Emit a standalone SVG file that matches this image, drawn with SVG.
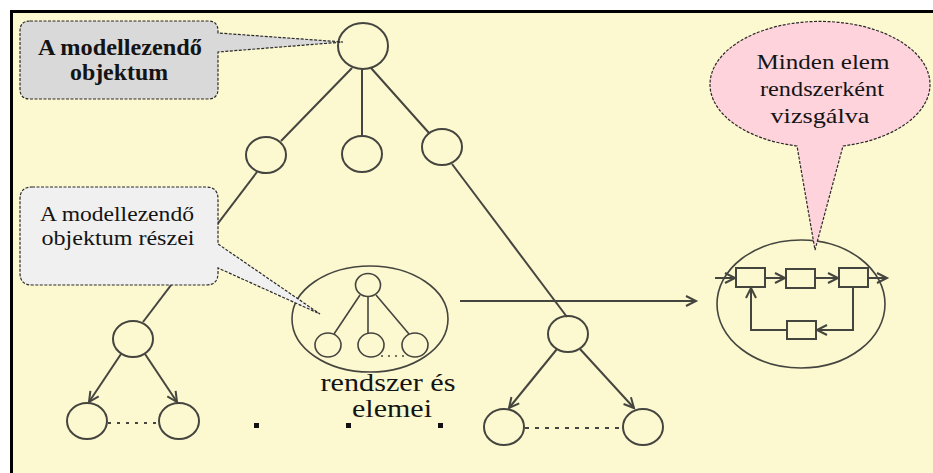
<svg xmlns="http://www.w3.org/2000/svg" width="933" height="473" viewBox="0 0 933 473">
  <style>
    .node { fill: none; stroke: #45453f; stroke-width: 2; }
    .edge { fill: none; stroke: #45453f; stroke-width: 2; }
    .thin { fill: none; stroke: #45453f; stroke-width: 1.6; }
    .box { fill: none; stroke: #45453f; stroke-width: 2; }
    .call { stroke: #2a2a2a; stroke-width: 1.2; stroke-dasharray: 3 1.5; }
    text { font-family: "Liberation Serif", "Times New Roman", serif; fill: #141414; }
  </style>
  <defs>
    <marker id="arr" markerUnits="userSpaceOnUse" markerWidth="14" markerHeight="14" refX="11" refY="6" orient="auto">
      <path d="M1,1 L11,6 L1,11" fill="none" stroke="#45453f" stroke-width="2"/>
    </marker>
  </defs>

  <!-- frame -->
  <rect x="0" y="0" width="933" height="473" fill="#ffffff"/>
  <rect x="10" y="10" width="923" height="463" fill="#000000"/>
  <rect x="13" y="13" width="920" height="460" fill="#fcf8d0"/>

  <!-- connectors -->
  <g id="connectors">
    <line class="edge" x1="352" y1="68" x2="281" y2="141"/>
    <line class="edge" x1="362" y1="69" x2="362" y2="136"/>
    <line class="edge" x1="371" y1="68" x2="429" y2="133"/>
    <line class="edge" x1="257" y1="172" x2="143" y2="322"/>
    <line class="edge" x1="452" y1="164" x2="567" y2="317"/>
    <line class="edge" x1="121" y1="354" x2="89" y2="402" marker-end="url(#arr)"/>
    <line class="edge" x1="145" y1="354" x2="177" y2="402" marker-end="url(#arr)"/>
    <line x1="108" y1="423" x2="160" y2="423" stroke="#45453f" stroke-width="2" stroke-dasharray="3 6"/>
    <line class="edge" x1="557" y1="349" x2="509" y2="408" marker-end="url(#arr)"/>
    <line class="edge" x1="580" y1="349" x2="634" y2="408" marker-end="url(#arr)"/>
    <line x1="525" y1="428" x2="623" y2="428" stroke="#45453f" stroke-width="2" stroke-dasharray="4 6"/>
    <line class="edge" x1="460" y1="301" x2="696" y2="301" marker-end="url(#arr)"/>
  </g>

  <!-- tree nodes -->
  <g id="root"><ellipse class="node" cx="363" cy="46" rx="25" ry="23"/></g>
  <g id="child-left"><ellipse class="node" cx="266" cy="155" rx="20" ry="18"/></g>
  <g id="child-mid"><ellipse class="node" cx="362" cy="154" rx="20" ry="18"/></g>
  <g id="child-right"><ellipse class="node" cx="442" cy="147" rx="20" ry="18"/></g>
  <g id="ll-parent"><ellipse class="node" cx="133" cy="339" rx="20" ry="18"/></g>
  <g id="ll-a"><ellipse class="node" cx="87" cy="421" rx="20" ry="18"/></g>
  <g id="ll-b"><ellipse class="node" cx="179" cy="421" rx="20" ry="18"/></g>
  <g id="rr-parent"><ellipse class="node" cx="568" cy="334" rx="20" ry="18"/></g>
  <g id="rr-a"><ellipse class="node" cx="504" cy="427" rx="20" ry="18"/></g>
  <g id="rr-b"><ellipse class="node" cx="643" cy="427" rx="20" ry="18"/></g>

  <!-- small dots -->
  <g id="dots" fill="#111">
    <rect x="254" y="423" width="5" height="5"/>
    <rect x="346" y="423" width="5" height="5"/>
    <rect x="438" y="423" width="5" height="5"/>
  </g>

  <!-- system with its elements -->
  <g id="system">
    <ellipse class="thin" cx="370" cy="319" rx="78" ry="53"/>
    <line class="thin" x1="360" y1="295" x2="334" y2="334"/>
    <line class="thin" x1="368" y1="297" x2="368" y2="333"/>
    <line class="thin" x1="376" y1="295" x2="409" y2="334"/>
    <ellipse class="thin" cx="368" cy="285" rx="12.5" ry="11.5"/>
    <ellipse class="thin" cx="328" cy="345" rx="13" ry="12"/>
    <ellipse class="thin" cx="371" cy="345" rx="13" ry="12"/>
    <ellipse class="thin" cx="415" cy="345" rx="13" ry="12"/>
    <line x1="381" y1="356" x2="405" y2="356" stroke="#45453f" stroke-width="1.6" stroke-dasharray="2 5"/>
    <text x="388" y="391" font-size="25" text-anchor="middle" textLength="135" lengthAdjust="spacingAndGlyphs">rendszer és</text>
    <text x="392" y="417" font-size="25" text-anchor="middle" textLength="80" lengthAdjust="spacingAndGlyphs">elemei</text>
  </g>

  <!-- element viewed as a system -->
  <g id="element-system">
    <ellipse class="thin" cx="801" cy="304" rx="84" ry="64"/>
    <rect class="box" x="736" y="268" width="29" height="19"/>
    <rect class="box" x="786" y="269" width="29" height="19"/>
    <rect class="box" x="839" y="268" width="29" height="19"/>
    <rect class="box" x="787" y="321" width="29" height="18"/>
    <line class="edge" x1="715" y1="278" x2="735" y2="278" marker-end="url(#arr)"/>
    <line class="edge" x1="765" y1="278" x2="785" y2="278" marker-end="url(#arr)"/>
    <line class="edge" x1="815" y1="278" x2="838" y2="278" marker-end="url(#arr)"/>
    <line class="edge" x1="868" y1="278" x2="887" y2="278" marker-end="url(#arr)"/>
    <polyline class="edge" points="853,287 853,330 817,330" marker-end="url(#arr)"/>
    <polyline class="edge" points="787,330 751,330 751,288" marker-end="url(#arr)"/>
  </g>

  <!-- callouts -->
  <g id="callout-object">
    <path class="call" fill="#d9d9d9" d="M30,21 H208 Q218,21 218,31 V33 L343,42 L218,52 V89 Q218,99 208,99 H30 Q20,99 20,89 V31 Q20,21 30,21 Z"/>
    <text x="120" y="55" font-size="23" font-weight="bold" text-anchor="middle" textLength="164" lengthAdjust="spacingAndGlyphs">A modellezendő</text>
    <text x="119" y="80" font-size="23" font-weight="bold" text-anchor="middle" textLength="98" lengthAdjust="spacingAndGlyphs">objektum</text>
  </g>

  <g id="callout-parts">
    <path class="call" fill="#f0f0f0" d="M32,187 H206 Q218,187 218,199 V244 L320,314 L218,268 V273 Q218,285 206,285 H32 Q20,285 20,273 V199 Q20,187 32,187 Z"/>
    <text x="117" y="221" font-size="22" text-anchor="middle" textLength="154" lengthAdjust="spacingAndGlyphs">A modellezendő</text>
    <text x="118" y="245" font-size="22" text-anchor="middle" textLength="153" lengthAdjust="spacingAndGlyphs">objektum részei</text>
  </g>

  <g id="callout-element">
    <path class="call" fill="#ffd3dc" d="M797,146 A110,63 0 1 1 843,146 L815,250 Z"/>
    <text x="823" y="69" font-size="21" text-anchor="middle" textLength="133" lengthAdjust="spacingAndGlyphs">Minden  elem</text>
    <text x="822" y="96" font-size="21" text-anchor="middle" textLength="124" lengthAdjust="spacingAndGlyphs">rendszerként</text>
    <text x="820" y="123" font-size="21" text-anchor="middle" textLength="99" lengthAdjust="spacingAndGlyphs">vizsgálva</text>
  </g>
</svg>
